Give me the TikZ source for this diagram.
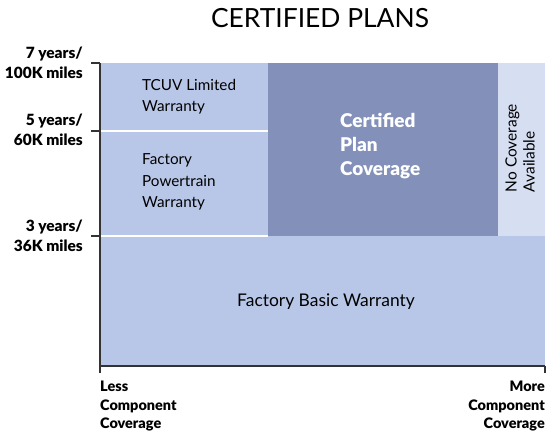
\documentclass[tikz,border=0pt]{standalone}
\usepackage{fontspec}
\setmainfont{Lato}[BoldFont={Lato Black}]
\usetikzlibrary{positioning}
\definecolor{bandblue}{HTML}{B8C7E8}
\definecolor{planblue}{HTML}{8391BA}
\definecolor{noblue}{HTML}{D6DEF2}
\definecolor{axisgray}{HTML}{333333}
\tikzset{
    sep/.style={white, line width=1.5bp},
    axis/.style={axisgray, line width=1.5bp},
    ylab/.style={font=\fontsize{15.5}{20}\selectfont\bfseries, align=right, anchor=east, inner sep=0pt},
    xlab/.style={font=\fontsize{14.5}{18.5}\selectfont\bfseries, inner sep=0pt},
    boxtext/.style={font=\fontsize{15.3}{21.5}\selectfont, align=left, inner sep=0pt},
}

\begin{document}
\begin{tikzpicture}[x=1bp, y=-1bp]
    \useasboundingbox (0,0) rectangle (553,434);

    \node[font=\fontsize{26.5}{30}\selectfont] (title) at (320,18) {CERTIFIED PLANS};

    % axis corners
    \coordinate (top) at (100,63);
    \coordinate (orig) at (100,366);
    \coordinate (far) at (545,366);

    % blocks
    \fill[bandblue] (101,236) rectangle (545,366);
    \fill[bandblue] (101,63) rectangle (268,236);
    \fill[planblue] (268,63) rectangle (498,236);
    \fill[noblue] (498,63) rectangle (545,236);
    \draw[sep] (101,131) -- (268,131);
    \draw[sep] (101,236) -- (268,236);

    % axes
    \draw[axis] (top) -- (orig) -- (far);
    \draw[axis] (orig) -- ++(0,7);
    \draw[axis] (far) -- ++(0,7);
    \foreach \y in {63,131,236}
      \draw[axis] (91,\y) -- (100,\y);

    \node[ylab] (y7) at (83,63) {7 years/\\100K miles};
    \node[ylab] (y5) at (83,129.5) {5 years/\\60K miles};
    \node[ylab] (y3) at (83,236) {3 years/\\36K miles};

    \node[xlab, align=left, anchor=north west] (less) at (100,381) {Less\\Component\\Coverage};
    \node[xlab, align=right, anchor=north east] (more) at (545,381) {More\\Component\\Coverage};

    \node[boxtext, anchor=west] (tcuv) at (142,96.5) {TCUV Limited\\Warranty};
    \node[boxtext, anchor=west] (power) at (142,182) {Factory\\Powertrain\\Warranty};
    \node[boxtext, anchor=west, white, font=\fontsize{19}{24}\selectfont\bfseries] (plan) at (340,146) {Certified\\Plan\\Coverage};
    \node[boxtext, rotate=90, font=\fontsize{15.5}{18}\selectfont] (none) at (520,148) {No Coverage\\Available};
    \node[boxtext, font=\fontsize{17.5}{21}\selectfont] (basic) at (326,302) {Factory Basic Warranty};
\end{tikzpicture}
\end{document}
